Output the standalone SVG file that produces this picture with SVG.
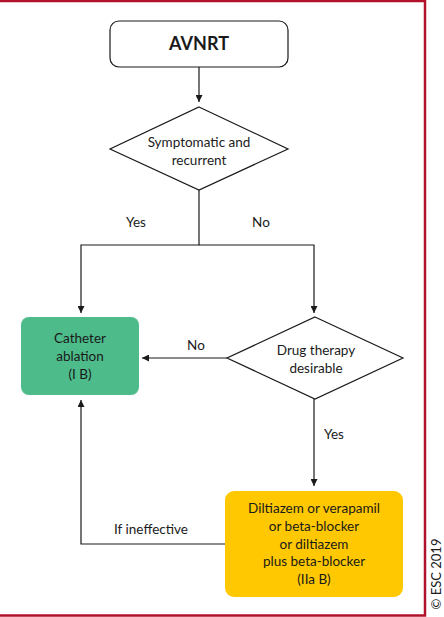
<svg xmlns="http://www.w3.org/2000/svg" width="444" height="617" viewBox="0 0 444 617">
<style>
text{font-family:Lato,"Open Sans","Liberation Sans",sans-serif;fill:#1a1a1a;text-anchor:middle;font-size:13.5px}
.b{font-weight:bold}
.ln{fill:none;stroke:#1a1a1a;stroke-width:1.2}
.bd{fill:none;stroke:#b0122b;stroke-width:2.5}
</style>
<defs>
<marker id="ah" viewBox="0 0 10 10" refX="10" refY="5" markerWidth="7" markerHeight="7" markerUnits="userSpaceOnUse" orient="auto">
<path d="M0,0 L10,5 L0,10 Z" fill="#1a1a1a"/>
</marker>
</defs>
<rect width="444" height="617" fill="#fff"/>
<path class="bd" d="M0,1 H425 V615.5 H0"/>
<g id="connectors">
<path class="ln" d="M199,67 V102" marker-end="url(#ah)"/>
<path class="ln" d="M199,190 V245 H81 V313" marker-end="url(#ah)"/>
<path class="ln" d="M199,245 H314 V313" marker-end="url(#ah)"/>
<path class="ln" d="M227,358 H142" marker-end="url(#ah)"/>
<path class="ln" d="M314,399 V486" marker-end="url(#ah)"/>
<path class="ln" d="M225,544 H81 V400" marker-end="url(#ah)"/>
<text x="136" y="227">Yes</text>
<text x="261" y="227">No</text>
<text x="196" y="350">No</text>
<text x="334" y="439">Yes</text>
<text x="151" y="534">If ineffective</text>
</g>
<g id="avnrt">
<rect x="110" y="21" width="178" height="46" rx="9" fill="#fff" stroke="#1a1a1a" stroke-width="1.2"/>
<text class="b" x="199" y="50" style="font-size:18px">AVNRT</text>
</g>
<g id="symptomatic">
<polygon points="199,107 288,149 199,190 110,149" fill="#fff" stroke="#1a1a1a" stroke-width="1.2"/>
<text x="199" y="147">Symptomatic and</text>
<text x="199" y="165">recurrent</text>
</g>
<g id="catheter">
<rect x="21" y="317" width="118" height="78" rx="8" fill="#4dbb8a"/>
<text x="80" y="343">Catheter</text>
<text x="80" y="361">ablation</text>
<text x="80" y="379">(I B)</text>
</g>
<g id="drug">
<polygon points="315,317 403,358 315,399 227,358" fill="#fff" stroke="#1a1a1a" stroke-width="1.2"/>
<text x="316" y="355">Drug therapy</text>
<text x="316" y="373">desirable</text>
</g>
<g id="drugs">
<rect x="225" y="491" width="178" height="106" rx="9" fill="#ffc800"/>
<text x="314" y="513">Diltiazem or verapamil</text>
<text x="314" y="531">or beta-blocker</text>
<text x="314" y="549">or diltiazem</text>
<text x="314" y="566">plus beta-blocker</text>
<text x="314" y="584">(IIa B)</text>
</g>
<text x="0" y="0" transform="translate(441,574) rotate(-90)" style="font-size:13px">© ESC 2019</text>
</svg>
